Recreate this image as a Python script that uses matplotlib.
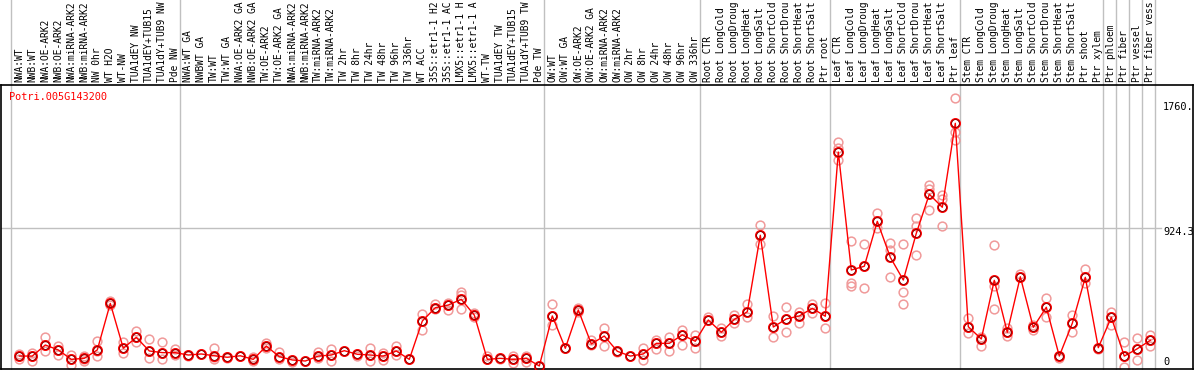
import matplotlib
matplotlib.use("Agg")
import matplotlib.pyplot as plt
from matplotlib.transforms import blended_transform_factory

# ---------------- data ----------------
gene_id = "Potri.005G143200"

# sample labels exactly as shown (truncated to 14 characters in the chart)
sample_labels = [
    "NWA:WT", "NWB:WT", "NWA:OE-ARK2", "NWB:OE-ARK2", "NWA:miRNA-ARK2", "NWB:miRNA-ARK2",
    "NW 0hr", "WT H2O", "WT-NW", "TUA1dEY NW", "TUA1dEY+TUB15", "TUA1dY+TUB9 NW", "Pde NW",
    "NWA:WT GA", "NWBWT GA", "TW:WT", "TW:WT GA", "NWA:OE-ARK2 GA", "NWB:OE-ARK2 GA",
    "TW:OE-ARK2", "TW:OE-ARK2 GA", "NWA:miRNA-ARK2", "NWB:miRNA-ARK2", "TW:miRNA-ARK2",
    "TW:miRNA-ARK2", "TW 2hr", "TW 8hr", "TW 24hr", "TW 48hr", "TW 96hr", "TW 336hr",
    "WT ACC", "35S::etr1-1 H2", "35S::etr1-1 AC", "LMX5::etr1-1 H", "LMX5::etr1-1 A",
    "WT-TW", "TUA1dEY TW", "TUA1dEY+TUB15", "TUA1dY+TUB9 TW", "Pde TW",
    "OW:WT", "OW:WT GA", "OW:OE-ARK2", "OW:OE-ARK2 GA", "OW:miRNA-ARK2", "OW:miRNA-ARK2",
    "OW 2hr", "OW 8hr", "OW 24hr", "OW 48hr", "OW 96hr", "OW 336hr",
    "Root CTR", "Root LongCold", "Root LongDroug", "Root LongHeat", "Root LongSalt",
    "Root ShortCold", "Root ShortDrou", "Root ShortHeat", "Root ShortSalt", "Ptr root",
    "Leaf CTR", "Leaf LongCold", "Leaf LongDroug", "Leaf LongHeat", "Leaf LongSalt",
    "Leaf ShortCold", "Leaf ShortDrou", "Leaf ShortHeat", "Leaf ShortSalt", "Ptr leaf",
    "Stem CTR", "Stem LongCold", "Stem LongDroug", "Stem LongHeat", "Stem LongSalt",
    "Stem ShortCold", "Stem ShortDrou", "Stem ShortHeat", "Stem ShortSalt", "Ptr shoot",
    "Ptr xylem", "Ptr phloem", "Ptr fiber", "Ptr vessel", "Ptr fiber vess",
]

mean_values = [
    71, 71, 145, 112, 49, 56, 112, 423, 123, 196, 105, 94, 94,
    78, 85, 73, 63, 73, 49, 138, 67, 45, 38, 71, 78, 107, 83, 78, 71, 105, 49,
    305, 394, 412, 450, 345, 49, 56, 49, 56, 5,
    339, 123, 379, 152, 205, 103, 71, 85, 156, 156, 212, 170,
    312, 230, 316, 367, 878, 265, 319, 339, 390, 337,
    1434, 646, 671, 971, 731, 579, 891, 1152, 1065, 1626,
    267, 185, 577, 230, 601, 263, 397, 71, 290, 597,
    127, 330, 71, 120, 176,
]

replicate_values = [
    [85, 71, 49], [94, 71, 40], [196, 145, 107], [140, 112, 78], [78, 49, 11],
    [71, 49, 40], [172, 107, 71], [441, 423, 412], [167, 123, 94], [238, 196, 163],
    [183, 105, 56], [167, 94, 49], [118, 94, 78],
    [78, 71], [85], [123, 67, 49], [63, 56], [73], [67, 49, 40], [160, 138, 123],
    [100, 67, 49], [45, 33], [38], [100, 71, 56], [118, 78, 38], [107], [83, 71],
    [123, 78, 40], [89, 71, 45], [138, 105, 78], [49],
    [350, 305, 245], [419, 394, 383], [423, 412, 379], [501, 479, 383], [357, 345, 334],
    [71, 49], [49], [71, 49, 27], [71, 56, 33], [5],
    [419, 339, 279], [123], [390, 379, 367], [178, 152, 145], [256, 205, 140],
    [103, 96], [71], [123, 85, 45], [178, 156, 116], [200, 156, 107], [245, 212, 145],
    [212, 170, 127],
    [330, 312], [256, 230, 205], [345, 316, 290], [419, 367, 330], [947, 878, 820],
    [339, 265, 196], [397, 319, 230], [367, 339, 294], [419, 390, 357], [428, 337, 256],
    [1500, 1460, 1380], [842, 557, 539], [818, 671, 524], [1025, 971, 925],
    [824, 780, 601], [818, 499, 419], [991, 940, 748], [1214, 1185, 1049],
    [1147, 1118, 940], [1793, 1570, 1514],
    [323, 267, 223], [200, 185, 140], [813, 539, 383], [256, 230, 205], [619, 601],
    [279, 263, 245], [457, 397, 334], [71, 56], [345, 290, 234], [653, 597, 561],
    [127, 116], [367, 330, 279], [167, 71, 0], [190, 120, 45], [212, 176, 140],
]

# indices where a new sample group starts (gray separators)
group_starts = [0, 13, 41, 53, 63, 73, 84, 85, 86, 87, 88]
grid_value = 924.3
tick_texts = ["1760.", "924.3", "0"]
tick_values = [1760, 924.3, 0]

# ---------------- figure ----------------
W, H = 1194, 370
dpi = 100
fig = plt.figure(figsize=(W / dpi, H / dpi), dpi=dpi)
fig.patch.set_facecolor("white")

ax_top_px, ax_bot_px = 85, 369
ax_left_px, ax_right_px = 1, 1193
ax = fig.add_axes([ax_left_px / W, (H - ax_bot_px) / H,
                   (ax_right_px - ax_left_px) / W, (ax_bot_px - ax_top_px) / H])

x_step_px, x0_px = 13.0, 19.3
ax.set_xlim((ax_left_px - x0_px) / x_step_px, (ax_right_px - x0_px) / x_step_px)
px_per_unit = 0.1497
zero_px = 366.7
ax.set_ylim((zero_px - ax_bot_px) / px_per_unit, (zero_px - ax_top_px) / px_per_unit)

ax.set_xticks([])
ax.set_yticks([])
for s in ax.spines.values():
    s.set_color("black")
    s.set_linewidth(1.2)

mono = "DejaVu Sans Mono"
fs = 6.9

# separators (extend up through label area)
frac_top = (ax_bot_px - 0) / (ax_bot_px - ax_top_px)
for b in group_starts:
    ax.axvline(b - 0.62, ymin=0, ymax=frac_top, color="#c0c0c0", lw=1.0,
               clip_on=False, zorder=0)

# horizontal grid line
x_end = (1161 - x0_px) / x_step_px
ax.plot([ax.get_xlim()[0], x_end], [grid_value, grid_value], color="#c0c0c0",
        lw=1.0, zorder=0)

xs = list(range(len(sample_labels)))

# replicates
for i, reps in enumerate(replicate_values):
    ax.plot([i] * len(reps), reps, linestyle="none", marker="o", markersize=6.3,
            markerfacecolor="none", markeredgecolor="#f09a9a", markeredgewidth=1.1,
            zorder=2, clip_on=False)

# mean line
ax.plot(xs, mean_values, color="#ff0000", lw=1.0, zorder=3)
ax.plot(xs, mean_values, linestyle="none", marker="o", markersize=6.6,
        markerfacecolor="none", markeredgecolor="#ff0000", markeredgewidth=1.3,
        zorder=4)
ax.plot(xs, mean_values, linestyle="none", marker="o", markersize=5.6,
        markerfacecolor="none", markeredgecolor="#700000", markeredgewidth=0.55,
        zorder=5)

# sample labels above plot
trans = blended_transform_factory(ax.transData, ax.transAxes)
for i, lab in enumerate(sample_labels):
    ax.annotate(lab, xy=(i, 1.0), xycoords=trans, xytext=(0, 1.8),
                textcoords="offset points", rotation=90, ha="center", va="bottom",
                fontsize=fs, family=mono, color="black", annotation_clip=False)

# gene id
ax.annotate(gene_id, xy=(0, 1), xycoords="axes fraction", xytext=(5.8, -8.8),
            textcoords="offset points", ha="left", va="center", fontsize=7.4,
            family=mono, color="#ff0000")

# right-hand value labels
lab_x = (1163 - x0_px) / x_step_px
offsets = [-3.0, -3.0, 3.2]
for t, v, off in zip(tick_texts, tick_values, offsets):
    ax.annotate(t, xy=(lab_x, v), xycoords="data", xytext=(0, off),
                textcoords="offset points", ha="left", va="center", fontsize=7.4,
                family=mono, color="black", annotation_clip=False)

fig.savefig("out.png", dpi=dpi)
